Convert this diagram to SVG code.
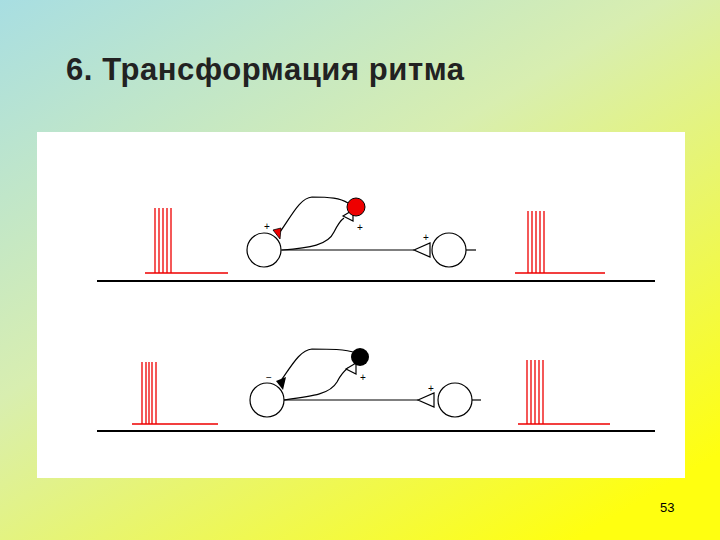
<svg xmlns="http://www.w3.org/2000/svg" width="720" height="540" viewBox="0 0 720 540">
<defs>
<linearGradient id="bg" x1="0" y1="0" x2="0.8" y2="1">
<stop offset="0" stop-color="#a8dee2"/>
<stop offset="0.45" stop-color="#d8eeb0"/>
<stop offset="1" stop-color="#ffff10"/>
</linearGradient>
<style>
.ln{fill:none;stroke:#000;stroke-width:1.2}
.sp{stroke:#e00;stroke-width:1.3;fill:none}
.base{stroke:#000;stroke-width:2.2}
.c{fill:#fff;stroke:#000;stroke-width:1.2}
.lb{font-family:"Liberation Sans",sans-serif;font-size:10px;fill:#000}
</style>
</defs>
<rect width="720" height="540" fill="url(#bg)"/>
<text x="66" y="80" font-family="Liberation Sans, sans-serif" font-weight="bold" font-size="31" textLength="398" fill="#222">6. Трансформация ритма</text>
<rect x="37" y="132" width="648" height="346" fill="#fff"/>
<g id="connectors">
<line class="base" x1="97" y1="281" x2="655" y2="281"/>
<line class="base" x1="97" y1="431" x2="655" y2="431"/>
</g>
<g id="spikes-top-left">
<path class="sp" d="M145 273H228M155 273V208M159 273V208M163 273V208M167 273V208M171 273V208"/>
</g>
<g id="spikes-top-right">
<path class="sp" d="M515 273H605M528 273V211M532 273V211M536 273V211M540 273V211M544 273V211"/>
</g>
<g id="spikes-bottom-left">
<path class="sp" d="M132 424H218M142 424V362M146 424V362M149 424V362M152 424V362M156 424V362"/>
</g>
<g id="spikes-bottom-right">
<path class="sp" d="M518 424H610M527 424V360M531 424V360M535 424V360M539 424V360M543 424V360"/>
</g>
<g id="circuit-top">
<circle class="c" cx="264" cy="250" r="17"/>
<path class="ln" d="M281 250H414"/>
<path class="ln" d="M280 232C292 215 300 198 312 197C330 197 340 198 348 203"/>
<path class="ln" d="M282 250C310 248 328 245 334 232C338 224 341 220 344 218"/>
<polygon points="273,230 281,228 280,239" fill="#e00" stroke="#000" stroke-width="0.8"/>
<polygon points="343,216 353,210 353,221" fill="#fff" stroke="#000" stroke-width="1.2"/>
<circle cx="356" cy="207" r="9" fill="#e00" stroke="#000" stroke-width="1"/>
<polygon points="414,250 430,243 430,257" fill="#fff" stroke="#000" stroke-width="1.2"/>
<circle class="c" cx="449" cy="250" r="17"/>
<path class="ln" d="M466 250H476"/>
<text class="lb" x="264" y="230">+</text>
<text class="lb" x="357" y="231">+</text>
<text class="lb" x="423" y="241">+</text>
</g>
<g id="circuit-bottom">
<circle class="c" cx="267" cy="400" r="17"/>
<path class="ln" d="M284 400H418"/>
<path class="ln" d="M280 382C292 365 300 350 312 349C330 349 345 349 356 353"/>
<path class="ln" d="M284 400C314 396 330 394 337 382C341 374 344 371 348 368"/>
<polygon points="276,381 286,377 283,390" fill="#000"/>
<polygon points="346,369 356,363 356,374" fill="#fff" stroke="#000" stroke-width="1.2"/>
<circle cx="360" cy="357" r="9" fill="#000"/>
<polygon points="418,400 434,393 434,407" fill="#fff" stroke="#000" stroke-width="1.2"/>
<circle class="c" cx="455" cy="400" r="17"/>
<path class="ln" d="M472 400H481"/>
<text class="lb" x="266" y="381">−</text>
<text class="lb" x="360" y="381">+</text>
<text class="lb" x="428" y="392">+</text>
</g>
<text x="660" y="512" font-family="Liberation Sans, sans-serif" font-size="13" fill="#000">53</text>
</svg>
